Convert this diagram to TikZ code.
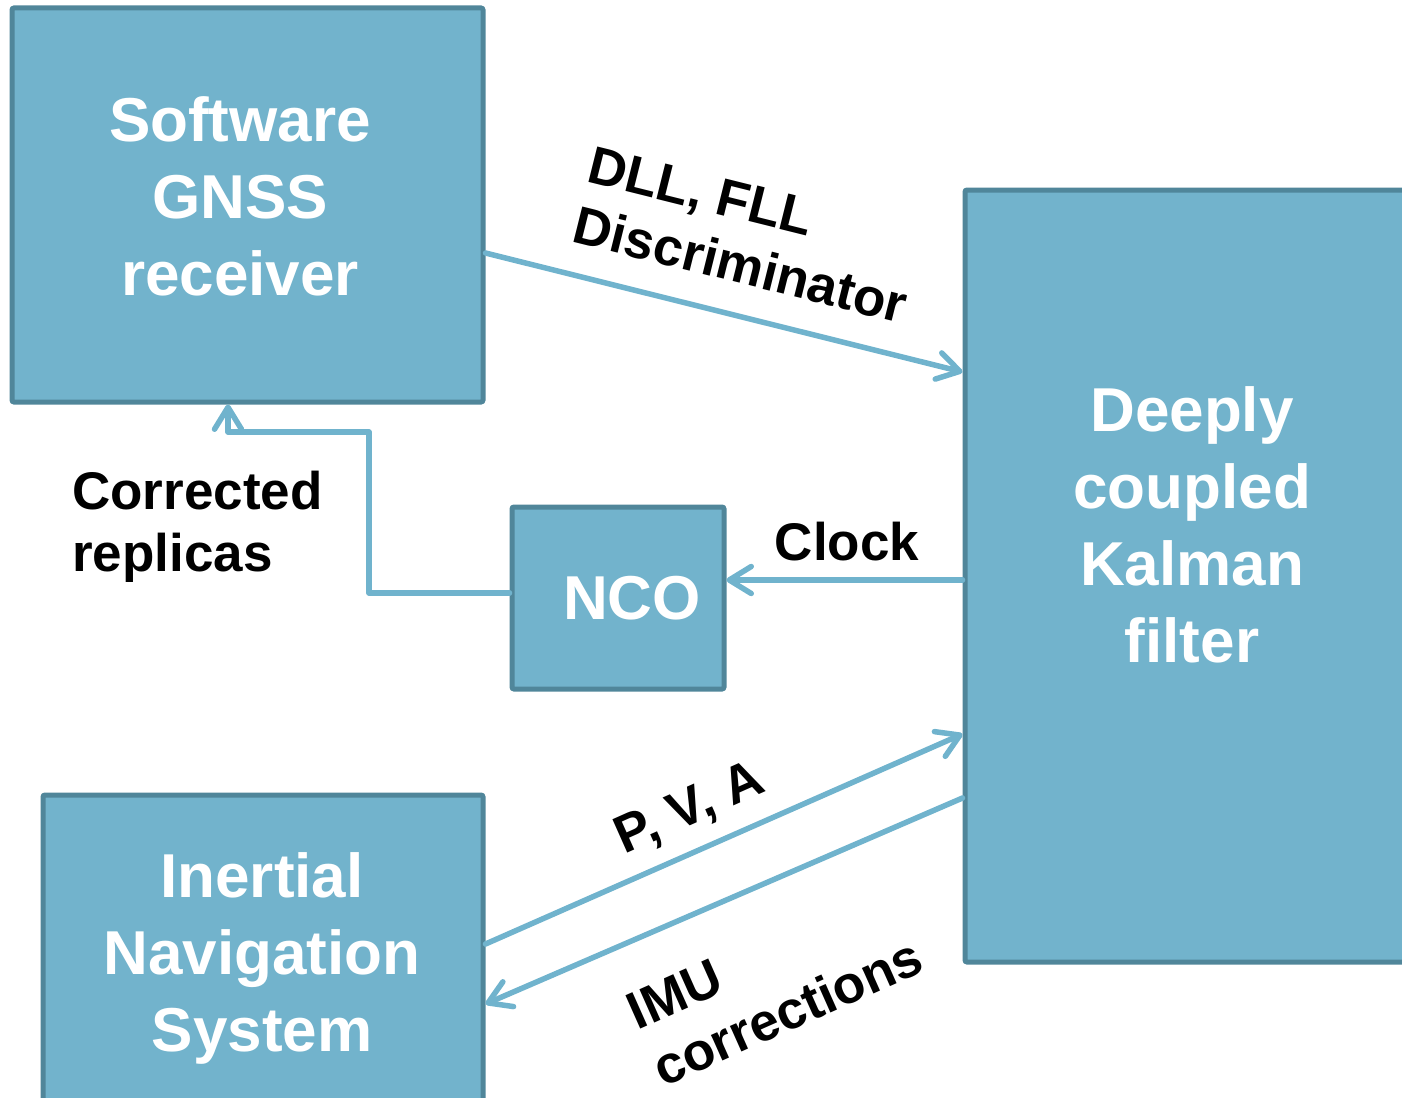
\documentclass[tikz,border=0pt]{standalone}
\usepackage{fontspec}
\setmainfont{Liberation Sans}
\usetikzlibrary{arrows.meta}
\definecolor{boxfill}{RGB}{114,179,204}
\definecolor{boxline}{RGB}{80,134,154}
\definecolor{arrowc}{RGB}{112,179,205}
\begin{document}
\begin{tikzpicture}[x=1pt,y=-1pt,
 blk/.style={draw=boxline, fill=boxfill, line width=5pt, rounded corners=2pt, inner sep=0pt},
 btxt/.style={text=white, font=\fontsize{62}{77}\selectfont\bfseries, align=center, inner sep=0pt},
 lbl/.style={text=black, font=\fontsize{53}{62}\selectfont\bfseries, align=left, inner sep=0pt},
 conn/.style={draw=arrowc, line width=5.5pt, line cap=round, line join=round, -{Straight Barb[length=22pt,width=27pt,round]}}]
\useasboundingbox (0,0) rectangle (1402,1097);
\clip (0,0) rectangle (1402,1097);
% boxes
\node[blk, minimum width=471pt, minimum height=394pt] (gnss) at (247.5,205) {};
\node[blk, minimum width=455pt, minimum height=772pt] (kf) at (1192.5,576) {};
\node[blk, minimum width=212pt, minimum height=182pt] (nco) at (618,598) {};
\node[blk, minimum width=440pt, minimum height=315pt] (ins) at (263,952.5) {};
% box texts
\node[btxt] (gnsstxt) at (240,196) {Software\\GNSS\\receiver};
\node[btxt] (kftxt) at (1192,525) {Deeply\\coupled\\Kalman\\filter};
\node[btxt] (ncotxt) at (632,598) {NCO};
\node[btxt] (instxt) at (262,958) {Inertial\\Navigation\\System};
% connectors
\draw[conn] ([yshift=-48pt]gnss.east) -- ([yshift=204pt]kf.west);
\draw[conn] ([yshift=5pt]nco.west) -| (369,432) -| ([xshift=-19.5pt]gnss.south);
\draw[conn] ([yshift=-4pt]kf.west) -- ([yshift=-4pt]kf.west -| nco.east);
\draw[conn] ([yshift=8.5pt]ins.east) -- ([yshift=-158pt]kf.west);
\draw[conn] ([yshift=-222pt]kf.west) -- ([yshift=-51.5pt]ins.east);
% labels
\node[lbl, rotate=-14] (dll) at (748,235) {DLL, FLL\\Discriminator};
\node[lbl] (clock) at (847,542) {Clock};
\node[lbl, anchor=west] (corr) at (72,527) {Corrected\\replicas};
\node[lbl, rotate=24] (pva) at (690,810) {P, V, A};
\node[lbl, rotate=24] (imu) at (775,984) {IMU\\corrections};
\end{tikzpicture}
\end{document}
